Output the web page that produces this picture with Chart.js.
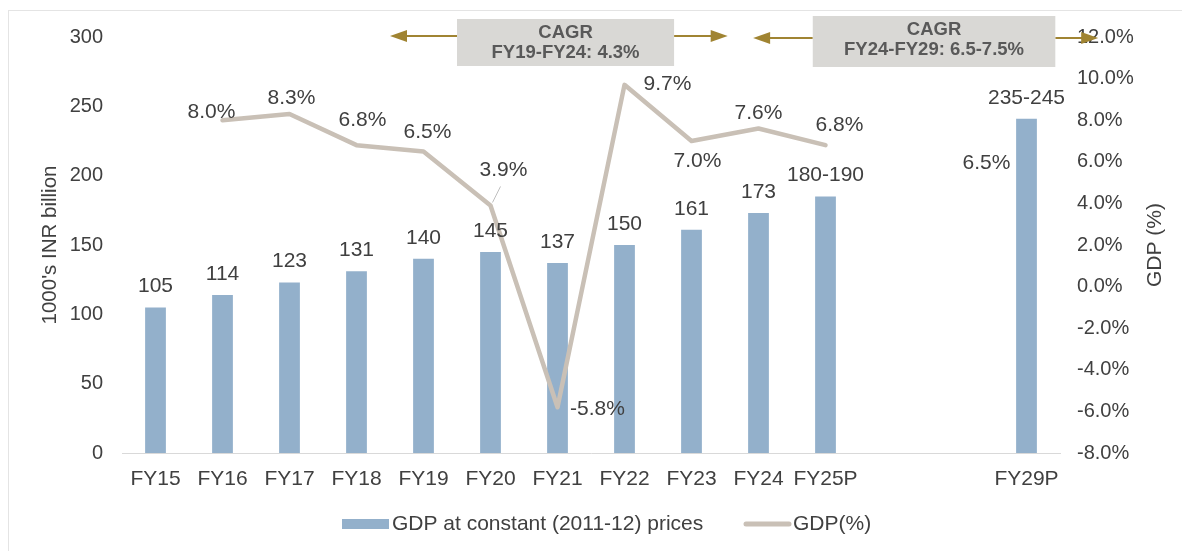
<!DOCTYPE html>
<html>
<head>
<meta charset="utf-8">
<title>GDP at constant prices</title>
<script src="https://cdn.jsdelivr.net/npm/chart.js@4.4.1/dist/chart.umd.min.js"></script>
<style>
  html, body { margin: 0; padding: 0; background: #fff; }
  #wrap { width: 1182px; height: 551px; }
</style>
</head>
<body>
<div id="wrap"><canvas id="gdpChart" width="1182" height="551"></canvas></div>
<script>
/* ── DATA ─────────────────────────────────────────────── */
const categories   = ['FY15','FY16','FY17','FY18','FY19','FY20','FY21','FY22','FY23','FY24','FY25P','','','FY29P'];
const gdpValues    = [105, 114, 123, 131, 140, 145, 137, 150, 161, 173, 185, null, null, 241];
const gdpLabels    = ['105','114','123','131','140','145','137','150','161','173','180-190','','','235-245'];
const growthValues = [null, 8.0, 8.3, 6.8, 6.5, 3.9, -5.8, 9.7, 7.0, 7.6, 6.8, null, null, null];
const growthNote   = { index: 13, value: 6.5 };   // "6.5%" beside FY29P
const cagrNotes    = [
  { title: 'CAGR', text: 'FY19-FY24: 4.3%' },
  { title: 'CAGR', text: 'FY24-FY29: 6.5-7.5%' }
];
const seriesNames  = ['GDP at constant (2011-12) prices', 'GDP(%)'];
const leftTitle    = "1000's INR billion";
const rightTitle   = 'GDP (%)';

/* ── LOOK ─────────────────────────────────────────────── */
const BAR_COLOR  = '#93b0cb';
const LINE_COLOR = '#c9c0b6';
const TEXT_COLOR = '#404040';
const GOLD       = '#a08432';
const FONT       = "'Liberation Sans', Arial, sans-serif";

// label offsets (dx, dy) from each line point to label centre
const growthOffsets = [null, [-11,-8], [2,-16], [6,-25], [4,-19], [13,-35], [40,2], [43,-1], [6,20], [0,-15], [14,-20]];

// CAGR boxes / arrows, in category units
const cagrLayout = [
  { box: [4.5, 7.74],  arrow: [3.5, 8.54],  top: 19, bottom: 66, y: 36 },
  { box: [9.81, 13.43], arrow: [8.92, 14.07], top: 16, bottom: 67, y: 38 }
];

/* ── PLUGIN: annotations ──────────────────────────────── */
const annotations = {
  id: 'annotations',
  beforeDraw(chart) {
    const ctx = chart.ctx;
    ctx.save();
    ctx.fillStyle = '#fff';
    ctx.fillRect(0, 0, chart.width, chart.height);
    ctx.strokeStyle = '#e4e4e4';
    ctx.lineWidth = 1;
    ctx.strokeRect(8.5, 10.5, chart.width + 20, chart.height + 20);
    ctx.restore();
  },
  afterDraw(chart) {
    const ctx = chart.ctx;
    const x   = chart.scales.x;
    const y1  = chart.scales.y1;
    const step = x.getPixelForValue(1) - x.getPixelForValue(0);
    const xAt = i => x.getPixelForValue(0) + i * step;

    ctx.save();
    ctx.textAlign = 'center';
    ctx.textBaseline = 'middle';
    ctx.fillStyle = TEXT_COLOR;
    ctx.font = '21px ' + FONT;

    // bar labels
    chart.getDatasetMeta(0).data.forEach((bar, i) => {
      if (gdpValues[i] == null) return;
      ctx.fillText(gdpLabels[i], bar.x, bar.y - 21);
    });

    // line labels
    chart.getDatasetMeta(1).data.forEach((pt, i) => {
      if (growthValues[i] == null) return;
      const [dx, dy] = growthOffsets[i];
      ctx.fillText(growthValues[i].toFixed(1) + '%', pt.x + dx, pt.y + dy);
    });
    // leader line for FY20
    const p20 = chart.getDatasetMeta(1).data[5];
    ctx.strokeStyle = '#bfbfbf';
    ctx.lineWidth = 1;
    ctx.beginPath();
    ctx.moveTo(p20.x + 2, p20.y - 3);
    ctx.lineTo(p20.x + 10, p20.y - 19);
    ctx.stroke();

    ctx.fillText(growthNote.value.toFixed(1) + '%', xAt(growthNote.index) - 40, y1.getPixelForValue(growthNote.value) + 12);

    // CAGR boxes and arrows
    cagrLayout.forEach((c, k) => {
      const bx0 = xAt(c.box[0]), bx1 = xAt(c.box[1]);
      const ax0 = xAt(c.arrow[0]), ax1 = xAt(c.arrow[1]);
      ctx.strokeStyle = GOLD;
      ctx.fillStyle = GOLD;
      ctx.lineWidth = 2;
      ctx.beginPath();
      ctx.moveTo(ax0 + 10, c.y); ctx.lineTo(bx0, c.y);
      ctx.moveTo(bx1, c.y); ctx.lineTo(ax1 - 10, c.y);
      ctx.stroke();
      [[ax0, 1], [ax1, -1]].forEach(([tx, d]) => {
        ctx.beginPath();
        ctx.moveTo(tx, c.y);
        ctx.lineTo(tx + d * 17, c.y - 6);
        ctx.lineTo(tx + d * 17, c.y + 6);
        ctx.closePath();
        ctx.fill();
      });
      ctx.fillStyle = '#d9d8d5';
      ctx.fillRect(bx0, c.top, bx1 - bx0, c.bottom - c.top);
      ctx.fillStyle = '#595959';
      ctx.font = 'bold 18.5px ' + FONT;
      ctx.fillText(cagrNotes[k].title, (bx0 + bx1) / 2, c.top + 14);
      ctx.fillText(cagrNotes[k].text, (bx0 + bx1) / 2, c.top + 34);
    });

    // axis titles
    ctx.fillStyle = TEXT_COLOR;
    const midY = (chart.chartArea.top + chart.chartArea.bottom) / 2;
    [[50, leftTitle, 20.5], [1155, rightTitle, 21]].forEach(([tx, t, fs]) => {
      ctx.save();
      ctx.font = fs + 'px ' + FONT;
      ctx.translate(tx, midY);
      ctx.rotate(-Math.PI / 2);
      ctx.fillText(t, 0, 0);
      ctx.restore();
    });

    // legend
    const ly = 524;
    ctx.font = '21px ' + FONT;
    ctx.textAlign = 'left';
    ctx.fillStyle = BAR_COLOR;
    ctx.fillRect(342, ly - 5, 47, 10);
    ctx.fillStyle = TEXT_COLOR;
    ctx.fillText(seriesNames[0], 392, ly);
    ctx.strokeStyle = LINE_COLOR;
    ctx.lineWidth = 5;
    ctx.lineCap = 'round';
    ctx.beginPath();
    ctx.moveTo(746, ly); ctx.lineTo(789, ly);
    ctx.stroke();
    ctx.fillText(seriesNames[1], 793, ly);
    ctx.restore();
  }
};

/* ── CHART ────────────────────────────────────────────── */
const yTickFont = { family: FONT, size: 20 };
const xTickFont = { family: FONT, size: 21 };

new Chart(document.getElementById('gdpChart'), {
  data: {
    labels: categories,
    datasets: [
      {
        type: 'bar',
        label: seriesNames[0],
        data: gdpValues,
        backgroundColor: BAR_COLOR,
        yAxisID: 'y',
        categoryPercentage: 1,
        barPercentage: 0.31,
        order: 2
      },
      {
        type: 'line',
        label: seriesNames[1],
        data: growthValues,
        borderColor: LINE_COLOR,
        borderWidth: 4.5,
        borderCapStyle: 'round',
        borderJoinStyle: 'round',
        pointRadius: 0,
        tension: 0,
        yAxisID: 'y1',
        order: 1
      }
    ]
  },
  options: {
    responsive: false,
    animation: false,
    devicePixelRatio: 1,
    layout: { padding: { top: 37, bottom: 60, left: 0, right: 0 } },
    plugins: { legend: { display: false }, tooltip: { enabled: false } },
    scales: {
      x: {
        grid: { display: false, drawTicks: false },
        border: { display: true, color: '#d9d9d9', width: 1 },
        ticks: { font: xTickFont, color: TEXT_COLOR, padding: 14, maxRotation: 0, autoSkip: false },
        afterFit(s) { s.height = 38; }
      },
      y: {
        position: 'left',
        min: 0, max: 300,
        grid: { display: false, drawTicks: false },
        border: { display: false },
        ticks: { stepSize: 50, font: yTickFont, color: TEXT_COLOR, padding: 19 },
        afterFit(s) { s.width = 122; }
      },
      y1: {
        position: 'right',
        min: -8, max: 12,
        grid: { display: false, drawTicks: false },
        border: { display: false },
        ticks: { stepSize: 2, font: yTickFont, color: TEXT_COLOR, padding: 17,
                 callback: v => v.toFixed(1) + '%' },
        afterFit(s) { s.width = 122; }
      }
    }
  },
  plugins: [annotations]
});
</script>
</body>
</html>
